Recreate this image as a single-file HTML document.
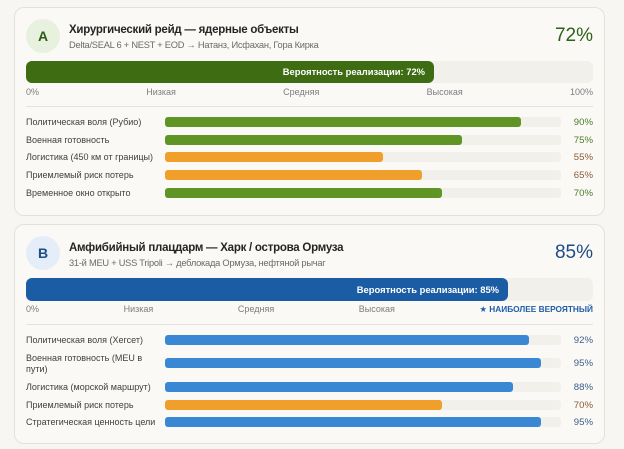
<!DOCTYPE html>
<html><head><meta charset="utf-8">
<style>
*{margin:0;padding:0;box-sizing:border-box}
html,body{width:624px;height:449px;overflow:hidden;background:#f7f6f2;font-family:"Liberation Sans","DejaVu Sans",sans-serif}
.card{position:absolute;left:14px;width:591px;background:#faf9f6;border:1px solid #e3e1db;border-radius:10px}
.abs{position:absolute;white-space:nowrap}
.circ{position:absolute;left:26px;width:34px;height:34px;border-radius:50%;font-weight:bold;font-size:14px;line-height:34px;text-align:center}
.title{font-size:11.5px;letter-spacing:-0.25px;font-weight:bold;color:#252525;line-height:14px;left:69px}
.sub{font-size:9.3px;letter-spacing:-0.25px;color:#6a6a6a;line-height:12px;left:69px}
.big{font-size:19px;line-height:20px;right:31px;text-align:right}
.track{position:absolute;left:26px;width:567px;background:#f1f0ea;border-radius:6px}
.fill{position:absolute;left:0;top:0;bottom:0;border-radius:6px;color:#fff;font-weight:bold;font-size:9.4px;text-align:right;padding-right:9px;white-space:nowrap}
.scale{position:absolute;left:26px;width:567px;display:flex;justify-content:space-between;font-size:9px;line-height:11px;color:#7d7d7d}
.div{position:absolute;left:26px;width:567px;height:1px;background:#e4e2dc}
.lab{position:absolute;left:26px;font-size:9px;line-height:11px;color:#404040;white-space:nowrap}
.rt{position:absolute;left:165px;width:396px;height:10px;background:#f1f0ea;border-radius:3px}
.rf{position:absolute;left:0;top:0;height:10px;border-radius:3px}
.val{position:absolute;right:31px;font-size:9.6px;line-height:12px;text-align:right}
.g{background:#5e9524}.o{background:#f09f2b}.b{background:#3a88d4}
.vg{color:#4c7c28}.vo{color:#8a5c33}.vb{color:#3b5e8b}
</style></head><body>

<div class="card" style="top:7px;height:209px"></div>
<div class="circ" style="top:19px;background:#e8f0de;color:#2e5b15">A</div>
<div class="abs title" style="top:23px">Хирургический рейд — ядерные объекты</div>
<div class="abs sub" style="top:39px">Delta/SEAL 6 + NEST + EOD → Натанз, Исфахан, Гора Кирка</div>
<div class="abs big" style="top:26px;color:#2f5f18">72%</div>
<div class="track" style="top:61px;height:22px"><div class="fill" style="width:408px;background:#3d6c13;line-height:22px">Вероятность реализации: 72%</div></div>
<div class="scale" style="top:87px"><span>0%</span><span>Низкая</span><span>Средняя</span><span>Высокая</span><span>100%</span></div>
<div class="div" style="top:106px"></div>

<div class="lab" style="top:116.5px">Политическая воля (Рубио)</div>
<div class="rt" style="top:117px"><div class="rf g" style="width:356px"></div></div>
<div class="val vg" style="top:116.5px">90%</div>

<div class="lab" style="top:134.5px">Военная готовность</div>
<div class="rt" style="top:135px"><div class="rf g" style="width:297px"></div></div>
<div class="val vg" style="top:134.5px">75%</div>

<div class="lab" style="top:151.5px">Логистика (450 км от границы)</div>
<div class="rt" style="top:152px"><div class="rf o" style="width:218px"></div></div>
<div class="val vo" style="top:151.5px">55%</div>

<div class="lab" style="top:169.5px">Приемлемый риск потерь</div>
<div class="rt" style="top:170px"><div class="rf o" style="width:257px"></div></div>
<div class="val vo" style="top:169.5px">65%</div>

<div class="lab" style="top:187.5px">Временное окно открыто</div>
<div class="rt" style="top:188px"><div class="rf g" style="width:277px"></div></div>
<div class="val vg" style="top:187.5px">70%</div>

<div class="card" style="top:224px;height:220px"></div>
<div class="circ" style="top:236px;background:#e4edf8;color:#1d4e8a">B</div>
<div class="abs title" style="top:241px">Амфибийный плацдарм — Харк / острова Ормуза</div>
<div class="abs sub" style="top:257px">31-й MEU + USS Tripoli → деблокада Ормуза, нефтяной рычаг</div>
<div class="abs big" style="top:243px;color:#1f4a84">85%</div>
<div class="track" style="top:278px;height:23px"><div class="fill" style="width:482px;background:#1b5da4;line-height:23px">Вероятность реализации: 85%</div></div>
<div class="scale" style="top:304px"><span>0%</span><span>Низкая</span><span>Средняя</span><span>Высокая</span><span style="color:#1f5ea8;font-weight:bold;font-size:8.3px">★ НАИБОЛЕЕ ВЕРОЯТНЫЙ</span></div>
<div class="div" style="top:324px"></div>

<div class="lab" style="top:334.5px">Политическая воля (Хегсет)</div>
<div class="rt" style="top:335px"><div class="rf b" style="width:364px"></div></div>
<div class="val vb" style="top:334.5px">92%</div>

<div class="lab" style="top:352.5px">Военная готовность (MEU в<br>пути)</div>
<div class="rt" style="top:358px"><div class="rf b" style="width:376px"></div></div>
<div class="val vb" style="top:357.5px">95%</div>

<div class="lab" style="top:381.5px">Логистика (морской маршрут)</div>
<div class="rt" style="top:382px"><div class="rf b" style="width:348px"></div></div>
<div class="val vb" style="top:381.5px">88%</div>

<div class="lab" style="top:399.5px">Приемлемый риск потерь</div>
<div class="rt" style="top:400px"><div class="rf o" style="width:277px"></div></div>
<div class="val vo" style="top:399.5px">70%</div>

<div class="lab" style="top:416.5px">Стратегическая ценность цели</div>
<div class="rt" style="top:417px"><div class="rf b" style="width:376px"></div></div>
<div class="val vb" style="top:416.5px">95%</div>

</body></html>
